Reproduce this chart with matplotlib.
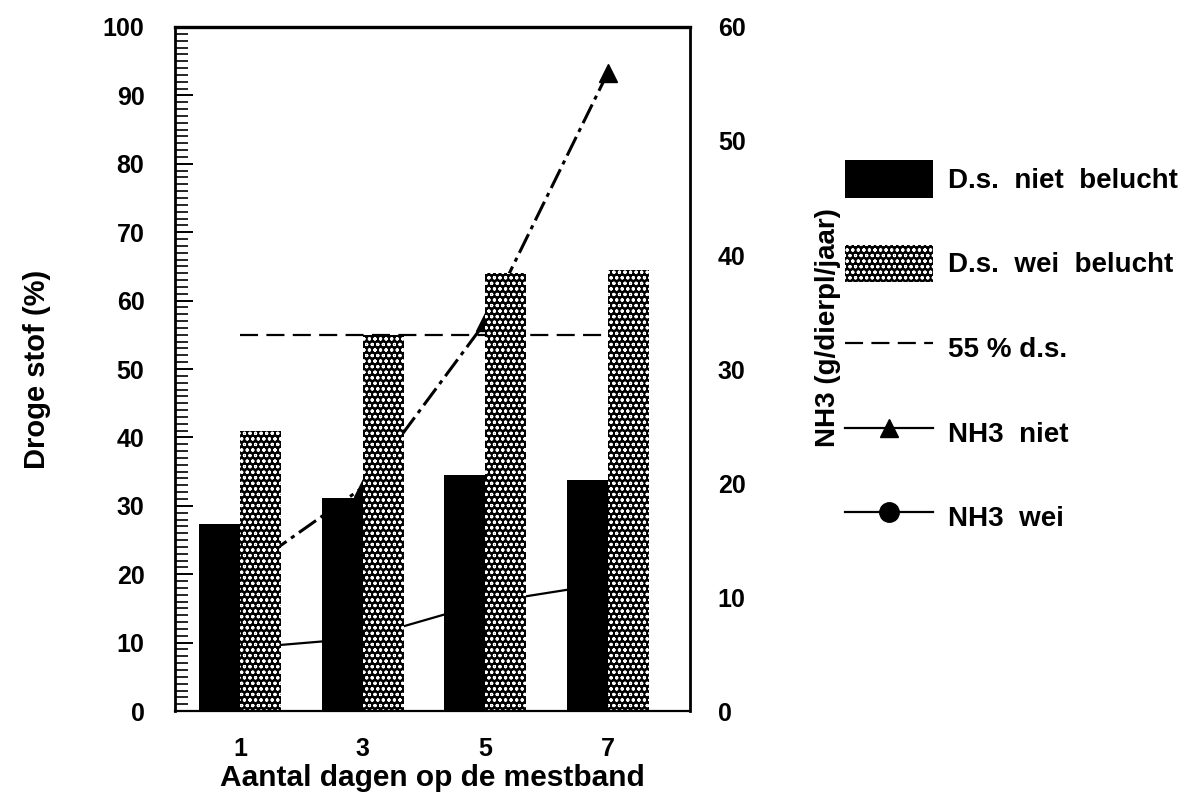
import numpy as np
import matplotlib
matplotlib.use('Agg')
import matplotlib.pyplot as plt
from matplotlib.lines import Line2D
from matplotlib.patches import Patch
from matplotlib.ticker import MultipleLocator

plt.rcParams['font.family'] = ['Liberation Sans', 'DejaVu Sans']
plt.rcParams['font.weight'] = 'bold'
plt.rcParams['axes.labelweight'] = 'bold'
plt.rcParams['hatch.color'] = 'white'
plt.rcParams['hatch.linewidth'] = 0.8
plt.rcParams['lines.scale_dashes'] = False

# dagen op de mestband
dagen = ['1', '3', '5', '7']
# droge stof (%)
ds_niet = [27.3, 31.2, 34.5, 33.8]
ds_wei = [41.0, 55.0, 64.0, 64.5]
grens = [55, 55, 55, 55]
# NH3 emissie (g/dierpl/jaar)
nh3_niet = [12.0, 19.6, 34.1, 56.0]
nh3_wei = [5.5, 6.4, 9.5, 11.2]

x = np.arange(len(dagen))
w = 0.335
patroon = 'ooo'

fig = plt.figure(figsize=(11.93, 8.08), dpi=100)
ax = fig.add_axes([0.1467, 0.12, 0.4317, 0.8466])
ax2 = ax.twinx()
# lijnen achter de staven
ax.set_zorder(ax2.get_zorder() + 1)
ax.patch.set_visible(False)

ax.bar(x - w / 2, ds_niet, w, color='black', zorder=2)
ax.bar(x + w / 2, ds_wei, w, color='black', hatch=patroon, zorder=2)
ax.plot(x, grens, color='black', lw=1.6, dashes=(13, 6), zorder=1)

ax.set_xlim(-0.53, 3.67)
ax.set_ylim(0, 100)
ax.set_xticks(x)
ax.set_xticklabels(dagen, fontsize=18)
ax.set_yticks(range(0, 101, 10))
ax.yaxis.set_minor_locator(MultipleLocator(1))
ax.tick_params(axis='y', which='major', direction='in', length=13, width=1.4,
               pad=22, labelsize=18)
ax.tick_params(axis='y', which='minor', direction='in', length=9, width=1.2)
ax.tick_params(axis='x', length=0, pad=19)
for side, lw in [('left', 2.0), ('top', 2.4), ('bottom', 1.6)]:
    ax.spines[side].set_linewidth(lw)
ax.spines['right'].set_visible(False)

ax.set_xlabel('Aantal dagen op de mestband', fontsize=21.5, labelpad=2)
ax.set_ylabel('Droge stof (%)', fontsize=21)
ax.yaxis.set_label_coords(-0.24, 0.5)

ax2.plot(x, nh3_niet, color='black', lw=2.2, dashes=(15, 4, 3, 4),
         marker='^', ms=13)
ax2.plot(x, nh3_wei, color='black', lw=1.6, marker='o', ms=13)
ax2.set_ylim(0, 60)
ax2.set_yticks(range(0, 61, 10))
ax2.tick_params(axis='y', length=0, pad=20, labelsize=18)
ax2.spines['right'].set_linewidth(2.0)
for side in ['left', 'top', 'bottom']:
    ax2.spines[side].set_visible(False)
ax2.set_ylabel('NH3 (g/dierpl/jaar)', fontsize=20)
ax2.yaxis.set_label_coords(1.243, 0.56)

handles = [
    Patch(facecolor='black', label='D.s.  niet  belucht'),
    Patch(facecolor='black', hatch=patroon, label='D.s.  wei  belucht'),
    Line2D([], [], color='black', lw=1.6, dashes=(13, 6), label='55 % d.s.'),
    Line2D([], [], color='black', lw=1.6, marker='^', ms=13, label='NH3  niet'),
    Line2D([], [], color='black', lw=1.6, marker='o', ms=14, label='NH3  wei'),
]
fig.legend(handles=handles, loc='upper left',
           bbox_to_anchor=(845 / 1193, 1 - 160 / 808),
           frameon=False, fontsize=20, borderpad=0, borderaxespad=0,
           handlelength=3.15, handleheight=1.72, labelspacing=1.68,
           handletextpad=0.55, numpoints=1)

fig.savefig('out.png', dpi=100)
